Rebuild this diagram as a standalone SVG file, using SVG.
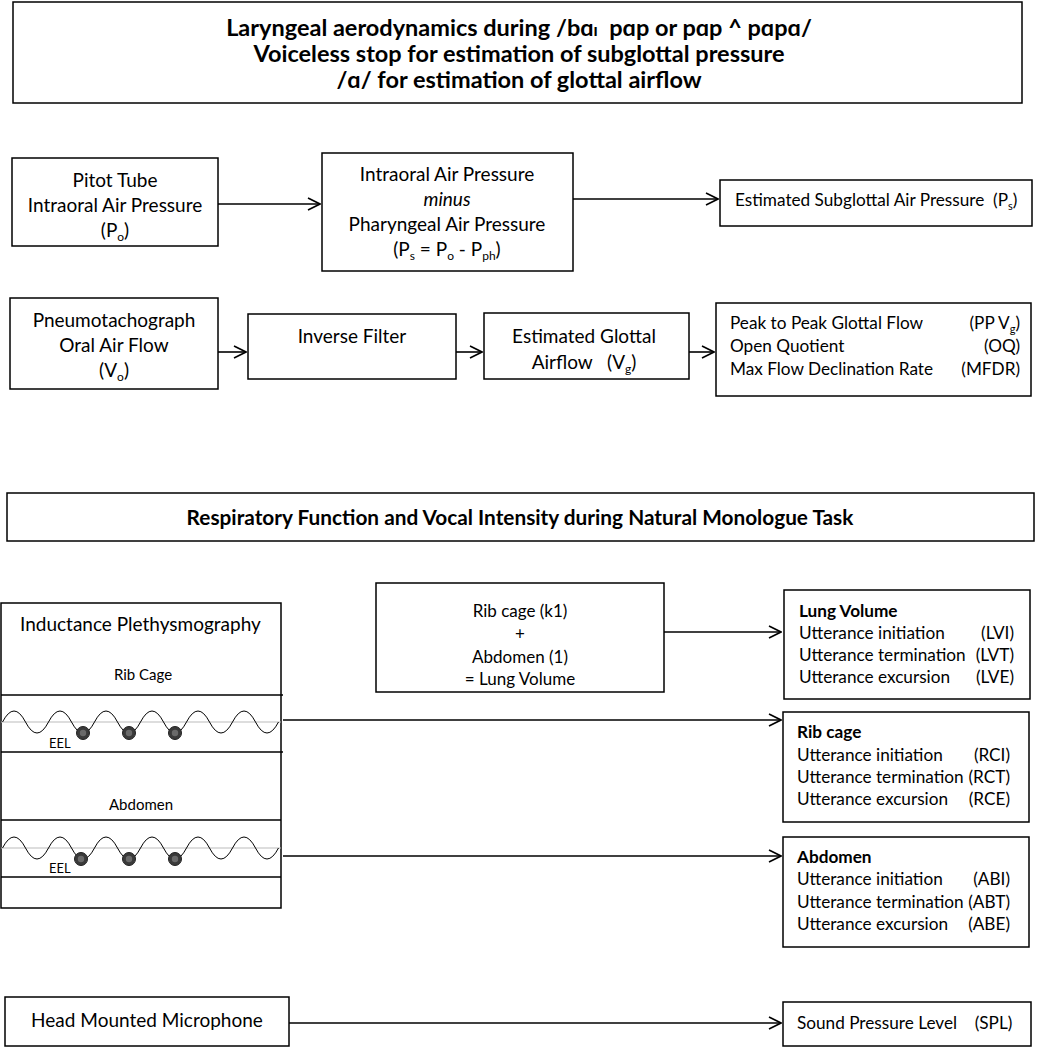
<svg xmlns="http://www.w3.org/2000/svg" width="1037" height="1050" viewBox="0 0 1037 1050">
<defs>
<style>
.box{fill:#fff;stroke:#000;stroke-width:1.5}
.t{font-family:Lato,"Open Sans","Liberation Sans",sans-serif;font-size:19px;fill:#000}
.c{text-anchor:middle}
.b{font-weight:bold}
.s{font-size:17.2px}
.hl{stroke:#000;stroke-width:1.5;fill:none}
.conn line{stroke:#000;stroke-width:1.6}
.wave{fill:none;stroke:#000;stroke-width:1}
.mid{stroke:#bbb;stroke-width:1}
</style>
<marker id="ah" viewBox="0 0 14 14" refX="13" refY="7" markerWidth="14" markerHeight="14" markerUnits="userSpaceOnUse" orient="auto">
<path d="M1 1 L13 7 L1 13" fill="none" stroke="#000" stroke-width="1.6"/>
</marker>
<g id="ball">
<circle r="6.5" fill="#3a3a3a" stroke="#222" stroke-width="1"/>
<circle r="3.2" fill="#6a6a6a"/>
</g>
</defs>
<rect width="1037" height="1050" fill="#fff"/>

<g id="title1">
<rect class="box" x="13" y="2" width="1009" height="101"/>
<text class="t b c" x="519" y="36" style="font-size:23.5px" xml:space="preserve">Laryngeal aerodynamics during /bɑ<tspan font-size="17">ɪ</tspan>  pɑp or pɑp ^ pɑpɑ/</text>
<text class="t b c" x="519" y="62" style="font-size:23.5px">Voiceless stop for estimation of subglottal pressure</text>
<text class="t b c" x="519" y="88" style="font-size:23.5px">/ɑ/ for estimation of glottal airflow</text>
</g>

<g id="pitot">
<rect class="box" x="12" y="158" width="206" height="88"/>
<text class="t c" x="115" y="187">Pitot Tube</text>
<text class="t c" x="115" y="212">Intraoral Air Pressure</text>
<text class="t c" x="115" y="237">(P<tspan font-size="12" dy="4">o</tspan><tspan dy="-4">)</tspan></text>
</g>

<g id="minus">
<rect class="box" x="322" y="153" width="251" height="118"/>
<text class="t c" x="447" y="181">Intraoral Air Pressure</text>
<text class="t c" x="447" y="206" font-style="italic">minus</text>
<text class="t c" x="447" y="231">Pharyngeal Air Pressure</text>
<text class="t c" x="447" y="256">(P<tspan font-size="12" dy="4">s</tspan><tspan dy="-4"> = P</tspan><tspan font-size="12" dy="4">o</tspan><tspan dy="-4"> - P</tspan><tspan font-size="12" dy="4">ph</tspan><tspan dy="-4">)</tspan></text>
</g>

<g id="subglottal">
<rect class="box" x="720" y="180" width="312" height="46"/>
<text class="t s" x="735" y="206" xml:space="preserve">Estimated Subglottal Air Pressure  (P<tspan font-size="11" dy="4">s</tspan><tspan dy="-4">)</tspan></text>
</g>

<g id="pneumo">
<rect class="box" x="10" y="298" width="208" height="91"/>
<text class="t c" x="114" y="327">Pneumotachograph</text>
<text class="t c" x="114" y="352">Oral Air Flow</text>
<text class="t c" x="114" y="377">(V<tspan font-size="12" dy="4">o</tspan><tspan dy="-4">)</tspan></text>
</g>

<g id="inverse">
<rect class="box" x="248" y="314" width="208" height="65"/>
<text class="t c" x="352" y="343">Inverse Filter</text>
</g>

<g id="glottal">
<rect class="box" x="484" y="313" width="205" height="66"/>
<text class="t c" x="584" y="343">Estimated Glottal</text>
<text class="t c" x="584" y="369" xml:space="preserve">Airflow   (V<tspan font-size="12" dy="4">g</tspan><tspan dy="-4">)</tspan></text>
</g>

<g id="measures">
<rect class="box" x="716" y="303" width="315" height="93"/>
<text class="t s" x="730" y="329">Peak to Peak Glottal Flow</text>
<text class="t s" x="1020" y="329" text-anchor="end">(PP V<tspan font-size="11" dy="4">g</tspan><tspan dy="-4">)</tspan></text>
<text class="t s" x="730" y="352">Open Quotient</text>
<text class="t s" x="1020" y="352" text-anchor="end">(OQ)</text>
<text class="t s" x="730" y="375">Max Flow Declination Rate</text>
<text class="t s" x="1020" y="375" text-anchor="end">(MFDR)</text>
</g>

<g id="title2">
<rect class="box" x="7" y="493" width="1027" height="48"/>
<text class="t b c" x="520" y="525" style="font-size:20.8px">Respiratory Function and Vocal Intensity during Natural Monologue Task</text>
</g>

<g id="plethysmography">
<rect class="box" x="1" y="603" width="280" height="305"/>
<text class="t" x="20" y="631">Inductance Plethysmography</text>
<text class="t c" x="143" y="680" style="font-size:15px">Rib Cage</text>
<line class="hl" x1="1" y1="695" x2="283" y2="695"/>
<line class="hl" x1="1" y1="752" x2="283" y2="752"/>
<line class="mid" x1="1" y1="722" x2="281" y2="722"/>
<path class="wave" d="M2.5 722 Q14 700 25.5 722 T48.5 722 T71.5 722 T94.5 722 T117.5 722 T140.5 722 T163.5 722 T186.5 722 T209.5 722 T232.5 722 T255.5 722 T278.5 722"/>
<use href="#ball" x="83" y="733"/>
<use href="#ball" x="129" y="733"/>
<use href="#ball" x="175" y="733"/>
<text class="t" x="49" y="748" style="font-size:13px">EEL</text>
<text class="t c" x="141" y="810" style="font-size:15px">Abdomen</text>
<line class="hl" x1="1" y1="820" x2="281" y2="820"/>
<line class="hl" x1="1" y1="877" x2="281" y2="877"/>
<line class="mid" x1="1" y1="848" x2="281" y2="848"/>
<path class="wave" d="M2.5 848 Q14 826 25.5 848 T48.5 848 T71.5 848 T94.5 848 T117.5 848 T140.5 848 T163.5 848 T186.5 848 T209.5 848 T232.5 848 T255.5 848 T278.5 848"/>
<use href="#ball" x="81" y="859"/>
<use href="#ball" x="129" y="859"/>
<use href="#ball" x="175" y="859"/>
<text class="t" x="49" y="873" style="font-size:13px">EEL</text>
</g>

<g id="lungcalc">
<rect class="box" x="376" y="583" width="288" height="109"/>
<text class="t c" x="520" y="617" style="font-size:17px">Rib cage (k1)</text>
<text class="t c" x="520" y="640" style="font-size:17px">+</text>
<text class="t c" x="520" y="663" style="font-size:17px">Abdomen (1)</text>
<text class="t c" x="520" y="685" style="font-size:17px">= Lung Volume</text>
</g>

<g id="lungvolume">
<rect class="box" x="784" y="590" width="246" height="109"/>
<text class="t s b" x="799" y="617">Lung Volume</text>
<text class="t s" x="799" y="639">Utterance initiation</text>
<text class="t s" x="1014" y="639" text-anchor="end">(LVI)</text>
<text class="t s" x="799" y="661">Utterance termination</text>
<text class="t s" x="1014" y="661" text-anchor="end">(LVT)</text>
<text class="t s" x="799" y="683">Utterance excursion</text>
<text class="t s" x="1014" y="683" text-anchor="end">(LVE)</text>
</g>

<g id="ribcage">
<rect class="box" x="783" y="712" width="246" height="110"/>
<text class="t s b" x="797" y="738">Rib cage</text>
<text class="t s" x="797" y="761">Utterance initiation</text>
<text class="t s" x="1010" y="761" text-anchor="end">(RCI)</text>
<text class="t s" x="797" y="783">Utterance termination</text>
<text class="t s" x="1010" y="783" text-anchor="end">(RCT)</text>
<text class="t s" x="797" y="805">Utterance excursion</text>
<text class="t s" x="1010" y="805" text-anchor="end">(RCE)</text>
</g>

<g id="abdomen">
<rect class="box" x="783" y="837" width="246" height="110"/>
<text class="t s b" x="797" y="863">Abdomen</text>
<text class="t s" x="797" y="885">Utterance initiation</text>
<text class="t s" x="1010" y="885" text-anchor="end">(ABI)</text>
<text class="t s" x="797" y="908">Utterance termination</text>
<text class="t s" x="1010" y="908" text-anchor="end">(ABT)</text>
<text class="t s" x="797" y="930">Utterance excursion</text>
<text class="t s" x="1010" y="930" text-anchor="end">(ABE)</text>
</g>

<g id="microphone">
<rect class="box" x="5" y="997" width="284" height="49"/>
<text class="t c" x="147" y="1027">Head Mounted Microphone</text>
</g>

<g id="spl">
<rect class="box" x="783" y="1002" width="248" height="44"/>
<text class="t s" x="797" y="1029" xml:space="preserve">Sound Pressure Level    (SPL)</text>
</g>

<g class="conn" id="connectors">
<line x1="218" y1="204" x2="320" y2="204" marker-end="url(#ah)"/>
<line x1="573" y1="199" x2="718" y2="199" marker-end="url(#ah)"/>
<line x1="218" y1="352" x2="246" y2="352" marker-end="url(#ah)"/>
<line x1="456" y1="352" x2="482" y2="352" marker-end="url(#ah)"/>
<line x1="689" y1="352" x2="714" y2="352" marker-end="url(#ah)"/>
<line x1="664" y1="632" x2="781" y2="632" marker-end="url(#ah)"/>
<line x1="283" y1="720" x2="781" y2="720" marker-end="url(#ah)"/>
<line x1="283" y1="856" x2="781" y2="856" marker-end="url(#ah)"/>
<line x1="289" y1="1023" x2="781" y2="1023" marker-end="url(#ah)"/>
</g>
</svg>
